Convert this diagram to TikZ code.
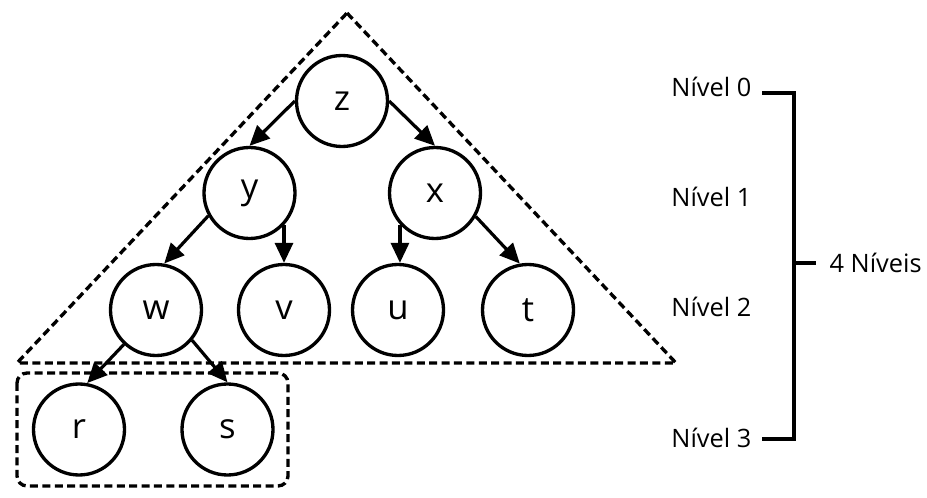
\documentclass[tikz,border=0pt]{standalone}
\usepackage{fontspec}
\setmainfont{Open Sans}
\usetikzlibrary{arrows.meta}

\tikzset{every picture/.style={line width=2.5pt}}
\tikzset{
  vertex/.style={draw, circle, minimum size=68.25pt, inner sep=0pt, line width=2.5pt, font=\fontsize{26pt}{30pt}\selectfont},
  edge/.style={-{Triangle[length=15pt,width=13.5pt]}, line width=2.4pt},
  dashbox/.style={line width=2.5pt, dash pattern=on 6pt off 3.3pt},
  level/.style={inner sep=0.75pt, font=\fontsize{19pt}{23pt}\selectfont},
  bracket/.style={line width=2.9pt}
}

\begin{document}
\begin{tikzpicture}[x=0.75pt,y=0.75pt,yscale=-1,xscale=1]
\useasboundingbox (0,0) rectangle (927,498); %set diagram size 927 x 498

%Shape: Triangle
\draw [dashbox] (347,13) -- (676,363) -- (17,363) -- cycle ;
%Shape: Rounded Rectangle
\draw [dashbox, rounded corners=7.5pt] (17,373) rectangle (288,486) ;

%Shape: Circle
\node [vertex] (z) at (342,101) {z};
\node [vertex] (y) at (249.5,193) {y};
\node [vertex] (x) at (435,193) {x};
\node [vertex] (w) at (156,310) {w};
\node [vertex] (v) at (284,310) {v};
\node [vertex] (u) at (398,310) {u};
\node [vertex] (t) at (528,310) {t};
\node [vertex] (r) at (79,429.5) {r};
\node [vertex] (s) at (227.5,429.5) {s};

%Straight Lines
\draw [edge] (z.west) -- (y.north) ;
\draw [edge] (z.east) -- (x.north) ;
\draw [edge] (y.209) -- (w.80) ;
\draw [edge] (y.-43) -- (y.-43 |- v.north) ;
\draw [edge] (x.222) -- (x.222 |- u.north) ;
\draw [edge] (x.-30) -- (t.100) ;
\draw [edge] (w.227) -- (r.80) ;
\draw [edge] (w.-40) -- (s.north) ;

% Text Node
\node [level, anchor=base east] (n0) at (754,97) {Nível 0};
% Text Node
\node [level, anchor=base east] (n1) at (754,207) {Nível 1};
% Text Node
\node [level, anchor=base east] (n2) at (754,317) {Nível 2};
% Text Node
\node [level, anchor=base east] (n3) at (754,447) {Nível 3};
% Text Node
\node [level, anchor=base west] (all) at (827,273) {4 Níveis};

%Shape: Bracket
\coordinate (b0) at (794,93);
\coordinate (b3) at (794,439);
\coordinate (bm) at (794,263);
\draw [bracket] ([xshift=6pt]b0 -| n0.east) -- (b0) -- (b3) -- ([xshift=6pt]b3 -| n3.east) ;
\draw [bracket] (bm) -- ([xshift=-8pt]all.west |- bm) ;

\end{tikzpicture}
\end{document}
